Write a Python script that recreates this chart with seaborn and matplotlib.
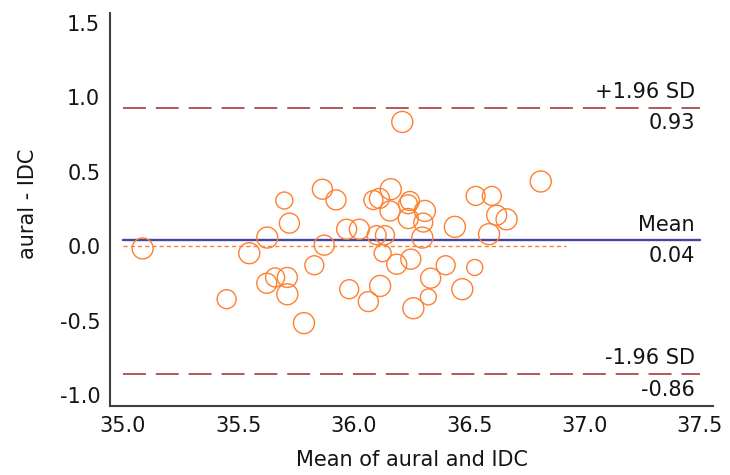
import numpy as np
import pandas as pd
import seaborn as sns
import matplotlib.pyplot as plt

# mean of the two methods (x) and their difference aural - IDC (y)
means = [35.085, 35.699, 35.721, 35.625, 35.547, 35.623, 35.659, 35.712, 35.712, 35.449,
         35.784, 35.864, 35.923, 35.969, 36.024, 35.872, 35.829, 35.980, 36.063, 36.114,
         36.099, 36.135, 36.125, 36.186, 36.247, 36.111, 36.160, 36.157, 36.243, 36.236,
         36.308, 36.301, 36.297, 36.333, 36.398, 36.323, 36.258, 36.470, 36.438, 36.524,
         36.528, 36.598, 36.619, 36.662, 36.586, 36.810, 36.210, 36.085, 36.235]
diffs = [-0.015, 0.307, 0.155, 0.058, -0.047, -0.249, -0.210, -0.210, -0.323, -0.356,
         -0.517, 0.383, 0.311, 0.114, 0.114, 0.007, -0.128, -0.289, -0.372, -0.267,
         0.074, 0.074, -0.047, -0.121, -0.087, 0.321, 0.383, 0.237, 0.304, 0.186,
         0.237, 0.159, 0.058, -0.215, -0.128, -0.341, -0.417, -0.289, 0.130, -0.143,
         0.338, 0.338, 0.208, 0.181, 0.081, 0.435, 0.835, 0.310, 0.282]
# marker diameter in pixels
diam = [21, 17, 20, 21, 21, 20, 19, 20, 21, 19,
        21, 20, 20, 20, 20, 20, 19, 19, 20, 21,
        19, 19, 17, 20, 20, 20, 21, 20, 19, 20,
        21, 19, 21, 20, 19, 16, 21, 21, 21, 16,
        19, 19, 20, 21, 21, 21, 21, 19, 19]

mean_diff = 0.04
upper_loa = 0.93
lower_loa = -0.86
zero_line_end = 36.92

x_ticks = [35.0, 35.5, 36.0, 36.5, 37.0, 37.5]
y_ticks = [-1.0, -0.5, 0.0, 0.5, 1.0, 1.5]

orange = "#ff8030"
navy = "#4646a0"
darkred = "#a02828"
txt = "#141414"

df = pd.DataFrame({"mean": means, "diff": diffs, "d": diam})
df["area"] = (df["d"] * 72 / 100) ** 2

sns.set_style("white")
plt.rcParams["font.family"] = ["DejaVu Sans"]
fs = 15

fig = plt.figure(figsize=(7.3, 4.75), dpi=100)
ax = fig.add_axes([110 / 730, 69 / 475, 603 / 730, 393 / 475])

# reference lines
ax.plot([35.0, zero_line_end], [0, 0], color=orange, lw=1, linestyle=(0, (3, 2.2)))
ax.plot([35.0, 37.5], [mean_diff, mean_diff], color=navy, lw=1.7)
ax.plot([35.0, 37.5], [upper_loa, upper_loa], color=darkred, lw=1.1, linestyle=(0, (15, 6.5)))
ax.plot([35.0, 37.5], [lower_loa, lower_loa], color=darkred, lw=1.1, linestyle=(0, (15, 6.5)))

sns.scatterplot(data=df, x="mean", y="diff", s=df["area"].values, marker="o",
                facecolor="none", edgecolor=orange, linewidth=1.0, ax=ax, zorder=3)

lx = 37.478
for yv, top, bottom in [(upper_loa, "+1.96 SD", "0.93"),
                        (mean_diff, "Mean", "0.04"),
                        (lower_loa, "-1.96 SD", "-0.86")]:
    ax.annotate(top, (lx, yv), xytext=(0, 7), textcoords="offset points",
                ha="right", va="baseline", fontsize=fs, color=txt)
    ax.annotate(bottom, (lx, yv), xytext=(0, -4), textcoords="offset points",
                ha="right", va="top", fontsize=fs, color=txt)

ax.set_xlim(35 - 13 / 230.8, 35 + 590 / 230.8)
ax.set_ylim(-1.0 - 11 / 148.8, 1.5 + 10 / 148.8)
ax.set_xticks(x_ticks)
ax.set_yticks(y_ticks)
ax.set_xticklabels([f"{v:.1f}" for v in x_ticks])
ax.set_yticklabels([f"{v:.1f}" for v in y_ticks])

for s in ["top", "right"]:
    ax.spines[s].set_visible(False)
for s in ["left", "bottom"]:
    ax.spines[s].set_color("#404040")
    ax.spines[s].set_linewidth(1.5)

ax.tick_params(axis="y", direction="in", length=9.5, width=1.5, color="#404040",
               labelsize=fs, labelcolor=txt, pad=7)
ax.tick_params(axis="x", direction="in", length=8, width=1.5, color="#404040",
               labelsize=fs, labelcolor=txt, pad=7)
ax.set_xlabel("Mean of aural and IDC", fontsize=fs, color=txt)
ax.set_ylabel("aural - IDC", fontsize=fs, color=txt)
ax.xaxis.set_label_coords(0.5, -0.112)
ax.yaxis.set_label_coords(-0.12, 0.515)

fig.savefig("out.png", dpi=100)
